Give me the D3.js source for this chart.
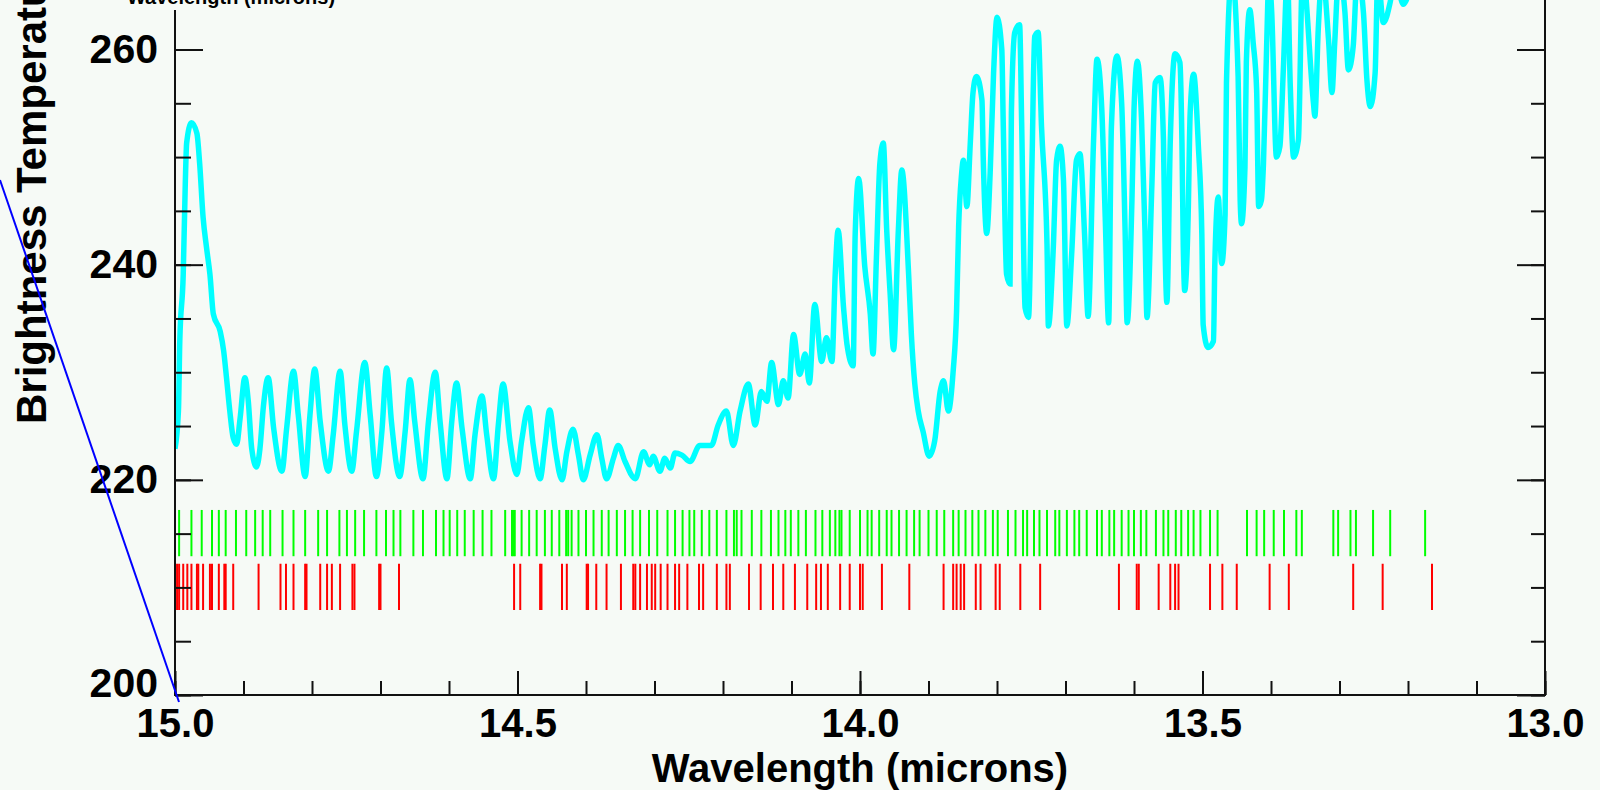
<!DOCTYPE html>
<html>
<head>
<meta charset="utf-8">
<script src="https://cdn.jsdelivr.net/npm/d3@7"></script>
<style>
  html, body { margin: 0; padding: 0; background: #f6faf6; overflow: hidden; }
  svg { display: block; }
  text { font-family: "Liberation Sans", Arial, Helvetica, sans-serif; font-weight: bold; fill: #000; }
</style>
</head>
<body>
<svg id="chart" width="1600" height="790"></svg>
<script>
// Brightness temperature spectrum (microns, K)
const spectrumWavelength = [
  15.000, 14.995, 14.993, 14.988, 14.985, 14.983, 14.976, 14.968, 14.964, 14.959,
  14.954, 14.949, 14.944, 14.934, 14.929, 14.925, 14.920, 14.915, 14.910, 14.905,
  14.898, 14.893, 14.888, 14.881, 14.876, 14.871, 14.864, 14.856, 14.844, 14.837,
  14.827, 14.820, 14.810, 14.803, 14.796, 14.788, 14.776, 14.769, 14.759, 14.752,
  14.742, 14.735, 14.723, 14.715, 14.706, 14.698, 14.691, 14.684, 14.672, 14.664,
  14.657, 14.650, 14.638, 14.630, 14.620, 14.613, 14.603, 14.596, 14.589, 14.581,
  14.569, 14.562, 14.552, 14.545, 14.535, 14.528, 14.521,
  14.511, 14.501, 14.494, 14.484, 14.477, 14.467, 14.460, 14.453, 14.445, 14.435,
  14.428, 14.419, 14.411, 14.404, 14.394, 14.384, 14.377, 14.370, 14.360, 14.353,
  14.343, 14.328, 14.316, 14.307, 14.302, 14.292, 14.285, 14.277, 14.270, 14.260,
  14.248, 14.234, 14.217, 14.207, 14.195, 14.185, 14.175, 14.163, 14.153, 14.144,
  14.136, 14.129, 14.119, 14.112, 14.105, 14.097, 14.088, 14.080, 14.074, 14.066,
  14.056, 14.049, 14.041,
  14.036, 14.032, 14.024, 14.019, 14.010, 14.007, 14.002, 13.993, 13.985, 13.981,
  13.976, 13.971, 13.966, 13.961, 13.956, 13.951, 13.944, 13.939, 13.929, 13.925,
  13.920, 13.915, 13.908, 13.899, 13.891, 13.883, 13.878, 13.871, 13.864, 13.859,
  13.856, 13.852, 13.849, 13.844, 13.839, 13.835, 13.830, 13.822, 13.820, 13.815,
  13.810, 13.805, 13.800, 13.793, 13.791, 13.786, 13.781, 13.779, 13.774, 13.767,
  13.764, 13.759, 13.754, 13.749, 13.745, 13.740, 13.735, 13.727, 13.725, 13.718,
  13.713, 13.708, 13.703, 13.698, 13.691, 13.684, 13.679, 13.672, 13.667, 13.659,
  13.654, 13.647, 13.642, 13.637, 13.633, 13.625, 13.618, 13.613, 13.610, 13.603,
  13.600, 13.595, 13.589, 13.584, 13.581, 13.574, 13.569, 13.562, 13.557, 13.555,
  13.552, 13.547, 13.540,
  13.533, 13.530, 13.528, 13.526, 13.521, 13.518, 13.513, 13.506, 13.501, 13.499,
  13.492, 13.484, 13.482, 13.477, 13.472, 13.467, 13.465, 13.457, 13.448, 13.445,
  13.443, 13.438, 13.436, 13.431, 13.426, 13.421, 13.418, 13.414, 13.411, 13.406,
  13.403, 13.399, 13.392, 13.387, 13.382, 13.376, 13.372, 13.367, 13.360, 13.354,
  13.338, 13.336, 13.331, 13.325, 13.316, 13.311, 13.307, 13.301, 13.292, 13.287,
  13.280, 13.274, 13.265, 13.260, 13.255, 13.248, 13.244, 13.236, 13.226, 13.219,
  13.207, 13.200
];
const spectrumTemp = [
  222.9, 226.4, 232.9, 239.1, 247.5, 251.3, 253.2, 252.2, 249.4, 244.4,
  241.6, 239.1, 235.4, 233.8, 232.0, 229.6, 226.4, 223.9, 223.3, 225.7,
  229.5, 227.3, 222.9, 221.2, 222.9, 226.8, 229.5, 224.8, 220.8, 224.8,
  230.1, 226.0, 220.3, 226.0, 230.3, 225.4, 220.8, 224.2, 230.1, 225.1,
  220.8, 224.5, 230.9, 226.0, 220.3, 224.5, 230.4, 225.4, 220.3, 224.5,
  229.3, 225.4, 220.1, 225.4, 230.0, 225.4, 220.1, 225.4, 229.0, 224.8,
  220.1, 224.2, 227.8, 224.2, 220.1, 225.1, 228.9,
  223.6, 220.5, 223.6, 226.7, 223.2, 220.1, 223.2, 226.5, 222.9, 220.0,
  222.6, 224.7, 222.3, 220.0, 222.3, 224.2, 222.0, 220.1, 222.0, 223.2,
  221.7, 220.1, 222.6, 221.4, 222.2, 220.8, 222.0, 221.1, 222.5, 222.3,
  221.7, 223.2, 223.2, 225.1, 226.4, 223.2, 226.4, 228.9, 225.1, 228.2,
  227.3, 230.9, 227.0, 229.2, 227.6, 233.5, 229.8, 231.7, 229.0, 236.3,
  231.0, 233.2, 231.0,
  239.4, 243.2, 236.0, 232.6, 230.6, 242.9, 248.0, 239.8, 235.4, 231.7,
  240.7, 249.4, 251.3, 243.2, 237.3, 232.1, 243.2, 248.8, 239.1, 233.5,
  228.9, 226.4, 224.5, 222.2, 223.6, 228.2, 229.2, 226.4, 230.1, 235.7,
  243.5, 248.2, 249.7, 245.4, 251.3, 256.0, 257.5, 255.3, 249.7, 242.9,
  248.5, 257.8, 263.0, 260.0, 253.5, 239.1, 238.2, 254.1, 261.6, 262.3,
  253.2, 236.0, 235.1, 249.1, 261.2, 261.6, 252.8, 241.9, 234.3, 241.3,
  249.7, 251.0, 247.9, 234.3, 241.0, 249.7, 250.3, 242.6, 235.2, 251.6,
  259.1, 254.4, 244.4, 234.6, 252.8, 259.4, 255.0, 243.2, 234.6, 246.0,
  254.4, 258.9, 253.5, 243.2, 235.1, 247.2, 256.9, 257.4, 251.6, 242.9,
  236.5, 251.6, 259.6,
  258.8, 251.3, 241.6, 237.6, 244.4, 254.1, 257.7, 251.0, 242.9, 234.4,
  232.3, 232.9, 240.1, 246.3, 240.1, 244.7, 256.9, 267.0, 257.5, 246.0,
  243.8, 249.1, 258.8, 263.7, 260.6, 256.3, 245.4, 246.0, 249.4, 261.2,
  267.0, 263.5, 250.0, 251.0, 258.1, 267.0, 256.9, 250.0, 251.6, 267.0,
  255.0, 253.8, 261.9, 267.0, 260.9, 256.0, 260.6, 267.0, 263.4, 258.1,
  260.3, 267.0, 263.4, 257.2, 254.7, 257.8, 267.0, 262.5, 264.4, 267.0,
  264.2, 265.0
];

// Line positions of the two molecular line lists (microns)
const greenLines = [
  14.994, 14.976, 14.961, 14.946, 14.936, 14.926, 14.911, 14.896, 14.883, 14.872,
  14.861, 14.843, 14.827, 14.810, 14.791, 14.778, 14.760, 14.749, 14.737, 14.724,
  14.706, 14.692, 14.681, 14.671, 14.652, 14.638, 14.619, 14.608, 14.599, 14.588,
  14.577, 14.564, 14.551, 14.538, 14.518, 14.508, 14.506, 14.504, 14.494, 14.483,
  14.472, 14.460, 14.450, 14.439, 14.429, 14.426, 14.421, 14.411, 14.400, 14.389,
  14.377, 14.367, 14.355, 14.343, 14.332, 14.321, 14.308, 14.296, 14.281, 14.270,
  14.259, 14.249, 14.242, 14.231, 14.220, 14.209, 14.195, 14.184, 14.180, 14.173,
  14.158, 14.144, 14.130, 14.119, 14.109, 14.101, 14.090, 14.079, 14.065, 14.055,
  14.044, 14.036, 14.030, 14.027, 14.015, 14.000, 13.989, 13.983, 13.972, 13.961,
  13.954, 13.943, 13.932, 13.921, 13.913, 13.900, 13.888, 13.877, 13.864, 13.856,
  13.846, 13.836, 13.827, 13.817, 13.806, 13.799, 13.784, 13.773, 13.762, 13.756,
  13.746, 13.738, 13.727, 13.715, 13.709, 13.698, 13.687, 13.680, 13.669, 13.654,
  13.647, 13.636, 13.629, 13.618, 13.608, 13.600, 13.590, 13.582, 13.568, 13.557,
  13.550, 13.539, 13.531, 13.521, 13.513, 13.503, 13.489, 13.478, 13.435, 13.421,
  13.410, 13.396, 13.381, 13.363, 13.355, 13.309, 13.302, 13.284, 13.276, 13.251,
  13.226, 13.175
];
const redLines = [
  15.000, 14.997, 14.994, 14.988, 14.982, 14.976, 14.968, 14.966, 14.959, 14.949,
  14.946, 14.936, 14.928, 14.926, 14.915, 14.878, 14.846, 14.838, 14.827, 14.810,
  14.808, 14.788, 14.778, 14.771, 14.759, 14.741, 14.738, 14.702, 14.700, 14.673,
  14.505, 14.496, 14.467, 14.465, 14.435, 14.428, 14.399, 14.397, 14.385, 14.370,
  14.349, 14.331, 14.328, 14.321, 14.311, 14.304, 14.299, 14.291, 14.281, 14.270,
  14.264, 14.252, 14.235, 14.229, 14.209, 14.195, 14.190, 14.162, 14.145, 14.127,
  14.112, 14.095, 14.077, 14.064, 14.057, 14.047, 14.029, 14.015, 14.000, 13.996,
  13.968, 13.928, 13.878, 13.864, 13.859, 13.853, 13.848, 13.831, 13.824, 13.802,
  13.796, 13.766, 13.737, 13.622, 13.596, 13.593, 13.564, 13.547, 13.540, 13.535,
  13.489, 13.471, 13.450, 13.402, 13.374, 13.280, 13.237, 13.165
];

// Temperature bands where each line list is drawn (K)
const greenBand = [212.9, 217.2];
const redBand = [207.9, 212.2];

const xMajorTicks = [15.0, 14.5, 14.0, 13.5, 13.0];
const xTickLabels = ["15.0", "14.5", "14.0", "13.5", "13.0"];
const yMajorTicks = [200, 220, 240, 260];
const yTickLabels = ["200", "220", "240", "260"];
const xTitle = "Wavelength (microns)";
const yTitle = "Brightness Temperature";

// ---- layout ----
const svg = d3.select("#chart");
const plotLeft = 175, plotRight = 1545, plotBottom = 695, plotTop = -60;

const x = d3.scaleLinear().domain([15.0, 13.0]).range([plotLeft, plotRight]);
const y = d3.scaleLinear().domain([200, 260]).range([plotBottom, 49.5]);

const xMinor = d3.range(0, 21).map(i => +(15 - i * 0.1).toFixed(1));
const yMinor = d3.range(200, 261, 5);

svg.append("rect").attr("width", 1600).attr("height", 790).attr("fill", "#f6faf6");

svg.append("defs").append("clipPath").attr("id", "plot-clip")
  .append("rect").attr("x", plotLeft).attr("y", plotTop)
  .attr("width", plotRight - plotLeft).attr("height", plotBottom - plotTop);

// line-list markers
const plot = svg.append("g").attr("clip-path", "url(#plot-clip)");
plot.append("g").selectAll("line").data(greenLines).join("line")
  .attr("x1", d => x(d)).attr("x2", d => x(d))
  .attr("y1", y(greenBand[1])).attr("y2", y(greenBand[0]))
  .attr("stroke", "#00ff00").attr("stroke-width", 2);
plot.append("g").selectAll("line").data(redLines).join("line")
  .attr("x1", d => x(d)).attr("x2", d => x(d))
  .attr("y1", y(redBand[1])).attr("y2", y(redBand[0]))
  .attr("stroke", "#ff0000").attr("stroke-width", 2);

// spectrum
const spectrum = spectrumWavelength.map((w, i) => [w, spectrumTemp[i]]);
plot.append("path").datum(spectrum)
  .attr("fill", "none").attr("stroke", "#00ffff").attr("stroke-width", 5.5)
  .attr("d", d3.line().x(d => x(d[0])).y(d => y(d[1])).curve(d3.curveMonotoneX));

// ---- axes ----
const axisColor = "#111";
function styleAxis(g, size) {
  g.select(".domain").remove();
  g.selectAll(".tick line").attr("stroke", axisColor).attr("stroke-width", 2);
  g.selectAll(".tick text").style("font-size", size + "px").style("font-weight", "bold")
    .style("font-family", '"Liberation Sans", Arial, sans-serif').attr("fill", "#000");
}

// bottom
svg.append("g").attr("transform", `translate(0,${plotBottom})`)
  .call(d3.axisBottom(x).tickValues(xMinor).tickSize(-14).tickFormat(""))
  .call(styleAxis, 40);
svg.append("g").attr("transform", `translate(0,${plotBottom})`)
  .call(d3.axisBottom(x).tickValues(xMajorTicks).tickSize(-24).tickPadding(14)
    .tickFormat((d, i) => xTickLabels[i]))
  .call(styleAxis, 40);

// left
svg.append("g").attr("transform", `translate(${plotLeft},0)`)
  .call(d3.axisLeft(y).tickValues(yMinor).tickSize(-16).tickFormat(""))
  .call(styleAxis, 41);
const yLabels = svg.append("g").attr("transform", `translate(${plotLeft},0)`)
  .call(d3.axisLeft(y).tickValues(yMajorTicks).tickSize(-28).tickPadding(17)
    .tickFormat((d, i) => yTickLabels[i]))
  .call(styleAxis, 41);
// lift the lowest label clear of the wavelength labels
yLabels.selectAll(".tick text").filter(d => d === yMajorTicks[0]).attr("dy", "0.03em");

// right
svg.append("g").attr("transform", `translate(${plotRight},0)`)
  .call(d3.axisRight(y).tickValues(yMinor).tickSize(-14).tickFormat(""))
  .call(styleAxis, 41);
svg.append("g").attr("transform", `translate(${plotRight},0)`)
  .call(d3.axisRight(y).tickValues(yMajorTicks).tickSize(-28).tickFormat(""))
  .call(styleAxis, 41);

// frame
svg.append("path")
  .attr("d", `M${plotLeft},${plotTop}V${plotBottom}H${plotRight}V${plotTop}`)
  .attr("fill", "none").attr("stroke", axisColor).attr("stroke-width", 2);

// titles
svg.append("text").attr("x", (plotLeft + plotRight) / 2).attr("y", 782)
  .attr("text-anchor", "middle").style("font-size", "40px").text(xTitle);

svg.append("text").attr("transform", "translate(46,424) rotate(-90)")
  .attr("text-anchor", "start").style("font-size", "42px").text(yTitle);

// small heading at the top edge, on its own backing box
svg.append("rect").attr("x", 122).attr("y", -20).attr("width", 220).attr("height", 30).attr("fill", "#f6faf6");
svg.append("text").attr("x", 231).attr("y", 4).attr("text-anchor", "middle")
  .style("font-size", "20px").text(xTitle);

// diagonal guide line
svg.append("line").attr("x1", 0).attr("y1", 180).attr("x2", 179).attr("y2", 702)
  .attr("stroke", "#0000ff").attr("stroke-width", 2);
</script>
</body>
</html>
